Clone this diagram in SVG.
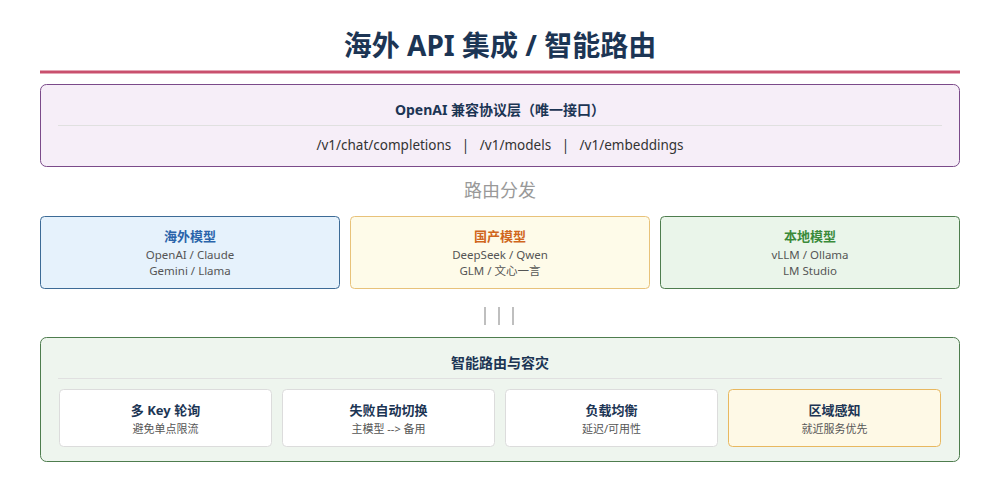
<svg xmlns="http://www.w3.org/2000/svg" width="1000" height="487" viewBox="0 0 1000 487">
<style>
text{font-family:"Noto Sans","Noto Sans CJK SC",sans-serif;text-anchor:middle}
.t{font-weight:bold;fill:#1c3554}
.sub{font-size:11.5px;fill:#555}
.mt{font-size:13px;font-weight:bold}
.div{stroke:#e0e0e0;stroke-width:1}
.card{fill:#ffffff;stroke:#dcdcdc;stroke-width:1}
</style>
<rect width="1000" height="487" fill="#ffffff"/>
<g id="title">
<text x="500" y="56" class="t" style="font-size:28px">海外 API 集成 / 智能路由</text>
<line x1="40" y1="72" x2="960" y2="72" stroke="#c9506e" stroke-width="3"/>
</g>
<g id="protocol">
<rect x="40.5" y="84.5" width="919" height="82" rx="6" fill="#f6eef8" stroke="#7b4a8a" stroke-width="1"/>
<text x="500" y="115" class="t" style="font-size:14px">OpenAI 兼容协议层（唯一接口）</text>
<line x1="58" y1="125.5" x2="942" y2="125.5" class="div"/>
<text x="500" y="150" xml:space="preserve" style="font-size:13.5px;fill:#333;white-space:pre">/v1/chat/completions   |   /v1/models   |   /v1/embeddings</text>
</g>
<g id="dispatch">
<text x="500" y="197" style="font-size:18px;fill:#999">路由分发</text>
</g>
<g id="overseas">
<rect x="40.5" y="216.5" width="299" height="72" rx="4" fill="#e6f2fc" stroke="#3d6b96" stroke-width="1"/>
<text x="190" y="241" class="mt" style="fill:#2a64aa">海外模型</text>
<text x="190" y="259" class="sub">OpenAI / Claude</text>
<text x="190" y="275" class="sub">Gemini / Llama</text>
</g>
<g id="domestic">
<rect x="350.5" y="216.5" width="299" height="72" rx="4" fill="#fefbe9" stroke="#e8c27a" stroke-width="1"/>
<text x="500" y="241" class="mt" style="fill:#d0661c">国产模型</text>
<text x="500" y="259" class="sub">DeepSeek / Qwen</text>
<text x="500" y="275" class="sub">GLM / 文心一言</text>
</g>
<g id="local">
<rect x="660.5" y="216.5" width="299" height="72" rx="4" fill="#eaf5ea" stroke="#4e7d4e" stroke-width="1"/>
<text x="810" y="241" class="mt" style="fill:#3a8a3a">本地模型</text>
<text x="810" y="259" class="sub">vLLM / Ollama</text>
<text x="810" y="275" class="sub">LM Studio</text>
</g>
<g id="connectors">
<line x1="485" y1="307" x2="485" y2="325" stroke="#aaa" stroke-width="1.5"/>
<line x1="499" y1="307" x2="499" y2="325" stroke="#aaa" stroke-width="1.5"/>
<line x1="513" y1="307" x2="513" y2="325" stroke="#aaa" stroke-width="1.5"/>
</g>
<g id="routing">
<rect x="40.5" y="337.5" width="919" height="124" rx="6" fill="#eef5ee" stroke="#4e7d4e" stroke-width="1"/>
<text x="500" y="368" class="t" style="font-size:14px">智能路由与容灾</text>
<line x1="58" y1="378.5" x2="942" y2="378.5" class="div"/>
</g>
<g id="multikey">
<rect x="59.5" y="389.5" width="212" height="57" rx="4" class="card"/>
<text x="165.5" y="415" class="t" style="font-size:13px">多 Key 轮询</text>
<text x="165.5" y="433" class="sub" style="font-size:11px">避免单点限流</text>
</g>
<g id="failover">
<rect x="282.5" y="389.5" width="212" height="57" rx="4" class="card"/>
<text x="388.5" y="415" class="t" style="font-size:13px">失败自动切换</text>
<text x="388.5" y="433" class="sub" style="font-size:11px">主模型 --&gt; 备用</text>
</g>
<g id="loadbalance">
<rect x="505.5" y="389.5" width="212" height="57" rx="4" class="card"/>
<text x="611.5" y="415" class="t" style="font-size:13px">负载均衡</text>
<text x="611.5" y="433" class="sub" style="font-size:11px">延迟/可用性</text>
</g>
<g id="region">
<rect x="728.5" y="389.5" width="212" height="57" rx="4" fill="#fef9e6" stroke="#e8b860" stroke-width="1"/>
<text x="834.5" y="415" class="t" style="font-size:13px">区域感知</text>
<text x="834.5" y="433" class="sub" style="font-size:11px">就近服务优先</text>
</g>
</svg>
